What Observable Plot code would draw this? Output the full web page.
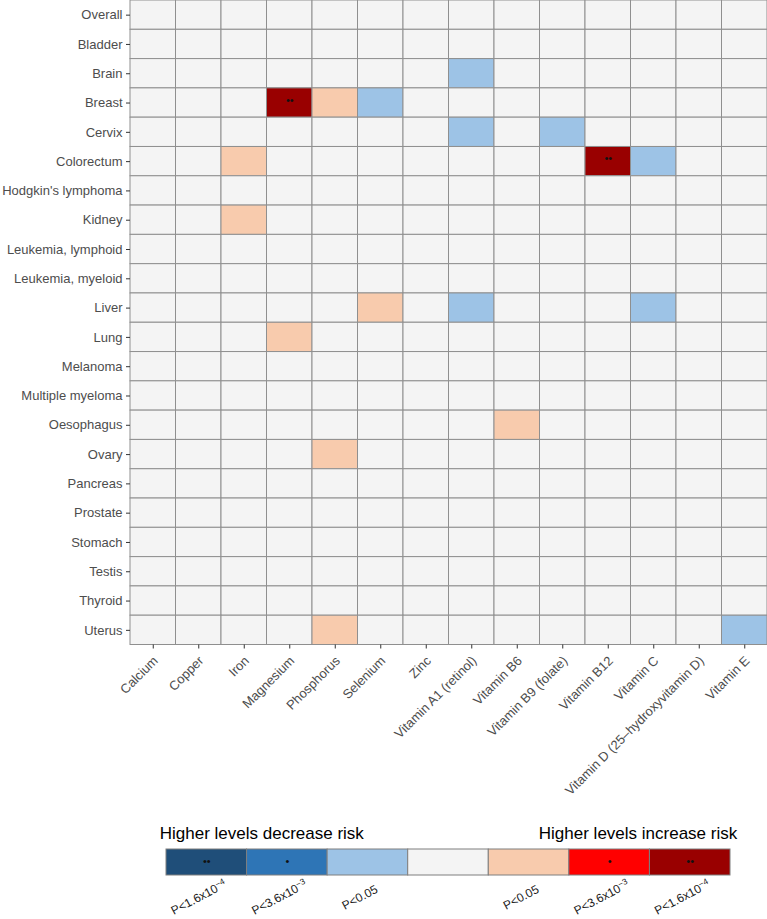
<!DOCTYPE html>
<html><head><meta charset="utf-8">
<script src="https://cdn.jsdelivr.net/npm/d3@7"></script>
<script src="https://cdn.jsdelivr.net/npm/@observablehq/plot@0.6"></script>
<style>
body{margin:0;background:#fff;font-family:"Liberation Sans",Arial,sans-serif;}
#chart{width:767px;height:919px;position:relative;overflow:hidden;background:#fff}
#chart svg{display:block}
</style></head><body><div id="chart"></div>
<script>
const cancers = ["Overall","Bladder","Brain","Breast","Cervix","Colorectum","Hodgkin's lymphoma","Kidney","Leukemia, lymphoid","Leukemia, myeloid","Liver","Lung","Melanoma","Multiple myeloma","Oesophagus","Ovary","Pancreas","Prostate","Stomach","Testis","Thyroid","Uterus"];
const nutrients = ["Calcium","Copper","Iron","Magnesium","Phosphorus","Selenium","Zinc","Vitamin A1 (retinol)","Vitamin B6","Vitamin B9 (folate)","Vitamin B12","Vitamin C","Vitamin D (25\u2013hydroxyvitamin D)","Vitamin E"];
// significant associations: [cancer, nutrient, level]; level -3..3 (negative = decrease risk)
const significant = [
  ["Brain","Vitamin A1 (retinol)",-1],
  ["Breast","Magnesium",3],
  ["Breast","Phosphorus",1],
  ["Breast","Selenium",-1],
  ["Cervix","Vitamin A1 (retinol)",-1],
  ["Cervix","Vitamin B9 (folate)",-1],
  ["Colorectum","Iron",1],
  ["Colorectum","Vitamin B12",3],
  ["Colorectum","Vitamin C",-1],
  ["Kidney","Iron",1],
  ["Liver","Selenium",1],
  ["Liver","Vitamin A1 (retinol)",-1],
  ["Liver","Vitamin C",-1],
  ["Lung","Magnesium",1],
  ["Oesophagus","Vitamin B6",1],
  ["Ovary","Phosphorus",1],
  ["Uterus","Phosphorus",1],
  ["Uterus","Vitamin E",-1]
];
const levels = [-3,-2,-1,0,1,2,3];
const levelColors = ["#1F4E79","#2E75B6","#9DC3E6","#F4F4F4","#F8CBAD","#FF0000","#990000"];
const levelDots = ["\u2022\u2022","\u2022","","","","\u2022","\u2022\u2022"];
const levelLabels = ["P<1.6x10^\u22124","P<3.6x10^\u22123","P<0.05","","P<0.05","P<3.6x10^\u22123","P<1.6x10^\u22124"];
const legendTitles = ["Higher levels decrease risk","Higher levels increase risk"];

const font = '"Liberation Sans", Arial, Helvetica, sans-serif';
const lookup = new Map(significant.map(([c,n,l]) => [c + "|" + n, l]));
const table = cancers.flatMap(c => nutrients.map(n => ({cancer: c, nutrient: n, level: lookup.get(c + "|" + n) ?? 0})));

const main = Plot.plot({
  width: 767, height: 815,
  marginLeft: 130, marginRight: 0, marginTop: 0, marginBottom: 170.5,
  style: {fontFamily: font, fontSize: "13px", color: "#4d4d4d", background: "transparent", overflow: "visible"},
  x: {domain: nutrients, padding: 0, round: false, label: null, axis: null},
  y: {domain: cancers, padding: 0, round: false, label: null, axis: null},
  color: {type: "ordinal", domain: levels, range: levelColors},
  marks: [
    Plot.cell(table, {x: "nutrient", y: "cancer", fill: "level", stroke: "#8f8f8f", strokeWidth: 1}),
    Plot.text(table.filter(d => levelDots[d.level + 3]), {x: "nutrient", y: "cancer", text: d => levelDots[d.level + 3], fill: "#111", fontSize: 11, dy: -3}),
    Plot.axisY({tickSize: 4, tickPadding: 4, stroke: "#333", fill: "#4d4d4d", fontSize: 13, label: null}),
    Plot.axisX({tickSize: 4, tickFormat: () => "", stroke: "#333", label: null}),
    Plot.text(nutrients, {x: d => d, frameAnchor: "bottom", text: d => d, textAnchor: "end", lineAnchor: "top", rotate: -45, dx: -1, dy: 10, fill: "#4d4d4d", fontSize: 13})
  ]
});

const legend = Plot.plot({
  width: 767, height: 104,
  marginLeft: 166, marginRight: 37, marginTop: 0, marginBottom: 0,
  style: {fontFamily: font, background: "transparent", overflow: "visible"},
  x: {domain: levels, padding: 0, round: false, axis: null},
  y: {type: "band", domain: ["bar"], range: [34, 60], padding: 0, round: false, axis: null},
  color: {type: "ordinal", domain: levels, range: levelColors},
  marks: [
    Plot.cell(levels, {x: d => d, y: () => "bar", fill: d => d, stroke: "#7f7f7f", strokeWidth: 1}),
    Plot.text(levels.filter(d => levelDots[d + 3]), {x: d => d, y: () => "bar", text: d => levelDots[d + 3], fill: "#111", fontSize: 11, dy: -1}),
    Plot.text(levels.filter(d => levelLabels[d + 3]), {x: d => d, y: () => "bar", text: d => levelLabels[d + 3], fill: "#1a1a1a", fontSize: 12, rotate: -28, dx: -8, dy: 35}),
    Plot.text([legendTitles[0]], {x: () => levels[0], y: () => "bar", text: d => d, textAnchor: "start", lineAnchor: "bottom", fontSize: 17, fill: "#000", dx: -47, dy: -24}),
    Plot.text([legendTitles[1]], {x: () => levels[6], y: () => "bar", text: d => d, textAnchor: "end", lineAnchor: "bottom", fontSize: 17, fill: "#000", dx: 47, dy: -24})
  ]
});

// render exponents as superscripts
legend.querySelectorAll("text").forEach(t => {
  const s = t.textContent;
  if (s.includes("^")) {
    const [base, exp] = s.split("^");
    t.textContent = base;
    const sup = document.createElementNS("http://www.w3.org/2000/svg", "tspan");
    sup.setAttribute("dy", "-0.5em");
    sup.setAttribute("font-size", "0.7em");
    sup.textContent = exp;
    t.appendChild(sup);
  }
});

const chart = document.getElementById("chart");
chart.append(main, legend);
</script></body></html>
